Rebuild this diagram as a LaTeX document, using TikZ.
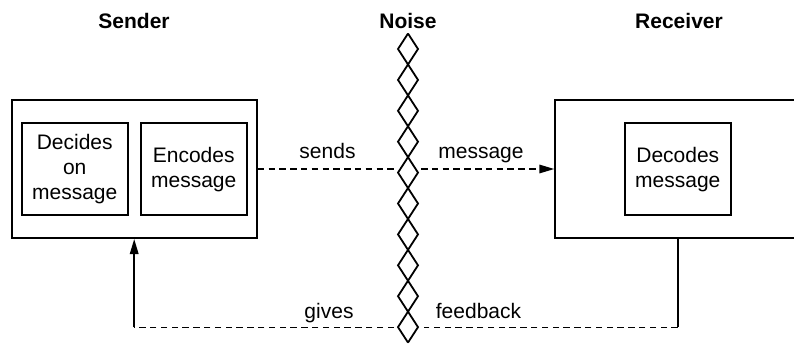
\documentclass[tikz,border=0pt]{standalone}
\usepackage{fontspec}
\setmainfont{Liberation Sans}
\usetikzlibrary{arrows.meta}
\begin{document}
\begin{tikzpicture}[x=1pt,y=-1pt,
  frame/.style={draw, line width=2pt, minimum width=245pt, minimum height=138pt, inner sep=0pt},
  stagebox/.style={draw, line width=1.9pt, minimum width=106pt, minimum height=91.7pt,
    inner sep=0pt, align=center, font=\fontsize{21}{25.2}\selectfont},
  head/.style={anchor=base, font=\fontsize{21}{25}\selectfont\bfseries},
  lab/.style={anchor=base, font=\fontsize{21}{25}\selectfont},
  flow/.style={line width=1.6pt, dash pattern=on 6.5pt off 4.3pt},
  link/.style={line width=1.7pt},
  tip/.style={-{Triangle[length=15pt,width=8.5pt]}},
  noise/.style={line width=1.8pt, line join=miter}
]
\useasboundingbox (0,0) rectangle (794,343);
\clip (0,0) rectangle (794,343);

% headings
\node[head] (hsend) at (134,28.3) {Sender};
\node[head] (hnoise) at (408,28.3) {Noise};
\node[head] (hrecv) at (679,28.3) {Receiver};

% sender side
\node[frame] (sender) at (134.2,169) {};
\node[stagebox] (decide) at (74.7,169.2) {Decides\\on\\message};
\node[stagebox] (encode) at (193.7,169.2) {Encodes\\message};

% receiver side
\node[frame] (receiver) at (677.8,169) {};
\node[stagebox] (decode) at (677.8,169.2) {Decodes\\message};

% noise barrier: a chain of diamonds
\draw[noise] (408,33.55)
  \foreach \k in {0,...,9}{ -- (398,{49+30.9*\k}) -- (408,{64.45+30.9*\k}) };
\draw[noise] (408,33.55)
  \foreach \k in {0,...,9}{ -- (418,{49+30.9*\k}) -- (408,{64.45+30.9*\k}) };

% ends of the lines at the barrier
\coordinate (msgL) at (395,169);
\coordinate (msgR) at (421,169);
\coordinate (fbL) at (394,327.3);
\coordinate (fbR) at (424,327.3);

% message flow
\draw[flow] (sender.east) -- (sender.east -| msgL);
\draw[flow, tip] (msgR |- receiver.west) -- (receiver.west);
\node[lab] (lsends) at (327.5,158) {sends};
\node[lab] (lmsg) at (481,158) {message};

% feedback flow
\draw[link] (receiver.south) -- (receiver.south |- fbR);
\draw[flow] (receiver.south |- fbR) -- (fbR);
\draw[flow] (fbL) -- (fbL -| sender.south);
\draw[link, tip] (fbL -| sender.south) -- (sender.south);
\node[lab] (lgives) at (329,318.3) {gives};
\node[lab] (lfeed) at (478.5,318.3) {feedback};
\end{tikzpicture}
\end{document}
